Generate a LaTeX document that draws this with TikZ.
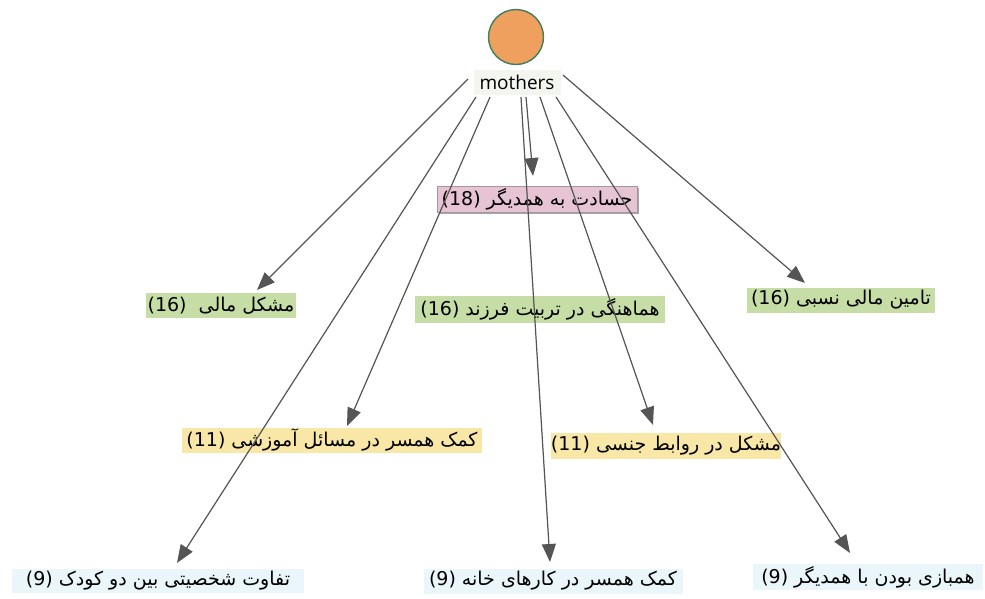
\documentclass[tikz,border=0pt]{standalone}
\usepackage{fontspec}
\setmainfont{Open Sans}
\newfontfamily\arabicfont[Script=Arabic]{DejaVu Sans}
\TeXXeTstate=1
\usetikzlibrary{arrows.meta,shadows}
\definecolor{cpink}{HTML}{E7C4D4}
\definecolor{cpinkb}{HTML}{A8949C}
\definecolor{cgreen}{HTML}{C6DDA6}
\definecolor{cyellow}{HTML}{F8E7A6}
\definecolor{cblue}{HTML}{EAF6FA}
\definecolor{cmoth}{HTML}{F3F5EF}
\definecolor{corange}{HTML}{EFA05E}
\definecolor{cring}{HTML}{3E7F5A}
\definecolor{cline}{HTML}{555555}
\newcommand\fatext[2]{\beginR #1 \beginL(#2)\endL\endR}
\begin{document}
\begin{tikzpicture}[x=1pt,y=-1pt,
  lab/.style={inner sep=0pt, minimum height=25pt, font=\arabicfont\fontsize{19}{21}\selectfont},
  greenlab/.style={lab, fill=cgreen},
  yellowlab/.style={lab, fill=cyellow},
  bluelab/.style={lab, fill=cblue},
  pinklab/.style={lab, fill=cpink, draw=cpinkb, line width=1pt,
    drop shadow={shadow xshift=2pt, shadow yshift=-2pt, fill=black!35, opacity=1}},
  arr/.style={draw=cline, line width=1.2pt, -{Triangle[length=18pt,width=14pt]}, fill=cline}]
\useasboundingbox (0,0) rectangle (985,598);
\node[circle, fill=corange, draw=cring, line width=1.4pt, minimum size=55pt, inner sep=0pt] (c) at (516,37) {};
\node[fill=cmoth, inner sep=0pt, minimum width=87pt, minimum height=25pt, font=\fontsize{19}{21}\selectfont] (m) at (517,82) {mothers};

\node[pinklab, minimum width=200pt, minimum height=26pt] (n0) at (537,199) {\fatext{حسادت به همدیگر}{18}};
\node[greenlab, minimum width=150pt] (n1) at (221,305.5) {\fatext{مشکل مالی\ }{16}};
\node[greenlab, minimum width=250pt, minimum height=27pt] (n2) at (540,309) {\fatext{هماهنگی در تربیت فرزند}{16}};
\node[greenlab, minimum width=188pt] (n3) at (841,300) {\fatext{تامین مالی نسبی}{16}};
\node[yellowlab, minimum width=300pt] (n4) at (332,440) {\fatext{کمک همسر در مسائل آموزشی}{11}};
\node[yellowlab, minimum width=228pt, minimum height=26pt] (n5) at (666,446) {\fatext{مشکل در روابط جنسی}{11}};
\node[bluelab, minimum width=292pt, minimum height=24pt] (n7) at (158,581) {\fatext{تفاوت شخصیتی بین دو کودک}{9}};
\node[bluelab, minimum width=259pt] (n8) at (553,581) {\fatext{کمک همسر در کارهای خانه}{9}};
\node[bluelab, minimum width=230pt, minimum height=26pt] (n9) at (868,577) {\fatext{همبازی بودن با همدیگر}{9}};

\coordinate (s1) at ([shift={(-49,-3)}]m.center);
\coordinate (s2) at ([shift={(-27,15)}]m.center);
\coordinate (s3) at ([shift={(-41,15)}]m.center);
\coordinate (s4) at ([shift={(9,15)}]m.center);
\coordinate (s5) at ([shift={(4,15)}]m.center);
\coordinate (s6) at ([shift={(23,15)}]m.center);
\coordinate (s7) at ([shift={(39,15)}]m.center);
\coordinate (s8) at ([shift={(46,-7)}]m.center);

\draw[arr] (s1) -- ([shift={(36,-15.5)}]n1.center);
\draw[arr] (s2) -- ([shift={(15,-14)}]n4.center);
\draw[arr] (s3) -- ([shift={(19,-18)}]n7.center);
\draw[arr] (s4) -- ([shift={(-4,-23)}]n0.center);
\draw[arr] (s5) -- ([shift={(-3,-19)}]n8.center);
\draw[arr] (s6) -- ([shift={(-13,-21)}]n5.center);
\draw[arr] (s7) -- ([shift={(-18,-24)}]n9.center);
\draw[arr] (s8) -- ([shift={(-36,-17)}]n3.center);
\end{tikzpicture}
\end{document}
